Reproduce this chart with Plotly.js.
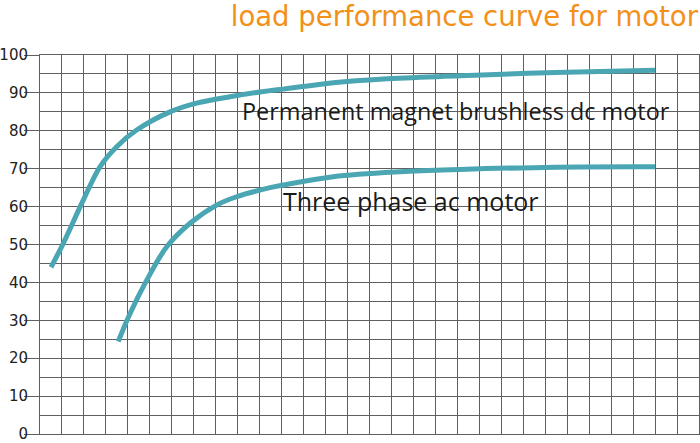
<!DOCTYPE html>
<html>
<head>
<meta charset="utf-8">
<script src="https://cdn.plot.ly/plotly-3.0.1.min.js"></script>
<style>html,body{margin:0;padding:0;background:#fff;}#chart{width:700px;height:443px;}</style>
</head>
<body>
<div id="chart"></div>
<script>
// Load (grid units) vs efficiency (%)
const bldcLoad = [0.5, 1.06, 1.97, 2.73, 3.49, 4.40, 5.92, 7.13, 8.65, 10.47, 11.07, 13.35, 15.63, 19.12, 23.5, 28.0];
const bldcEff  = [44.0, 50.3, 61.7, 70.5, 75.8, 80.2, 85.0, 87.3, 89.0, 90.6, 91.0, 92.7, 93.7, 94.5, 95.4, 96.0];
const acLoad = [3.56, 4.10, 4.86, 5.77, 6.83, 8.04, 8.95, 10.47, 11.07, 13.35, 16.39, 19.12, 23.5, 28.0];
const acEff  = [24.4, 31.8, 40.6, 49.4, 55.6, 60.4, 62.6, 65.0, 65.7, 67.9, 69.2, 69.8, 70.4, 70.5];
const yTicks = [0, 10, 20, 30, 40, 50, 60, 70, 80, 90, 100];
const titleText = "load performance curve for motor";
const bldcLabel = "Permanent magnet brushless dc motor";
const acLabel = "Three phase ac motor";

const lineColor = "#4aa6b3";
const gridColor = "#5f5f5f";

const traces = [
  {x: bldcLoad, y: bldcEff, mode: "lines", line: {color: lineColor, width: 5, shape: "spline"}, hoverinfo: "skip"},
  {x: acLoad, y: acEff, mode: "lines", line: {color: lineColor, width: 5, shape: "spline"}, hoverinfo: "skip"}
];

const layout = {
  width: 700, height: 443,
  margin: {l: 40, r: 1, t: 55, b: 9},
  paper_bgcolor: "#fff", plot_bgcolor: "#fff",
  showlegend: false,
  title: {text: titleText, font: {family: "DejaVu Sans", size: 27.5, color: "#f39019"},
          x: 698/700, xanchor: "right", xref: "container",
          y: 1 - 16/443, yanchor: "middle", yref: "container"},
  xaxis: {range: [0, 30], dtick: 1, tick0: 0, showticklabels: false, ticks: "",
          showgrid: true, gridcolor: gridColor, gridwidth: 1, zeroline: false,
          showline: true, linecolor: gridColor, linewidth: 1, mirror: true, fixedrange: true},
  yaxis: {range: [0, 100], tickvals: yTicks, ticktext: yTicks.map(String),
          ticks: "outside", ticklen: 15, tickcolor: gridColor, tickwidth: 1,
          ticklabelstandoff: -7, ticklabeloverflow: "allow",
          tickfont: {family: "DejaVu Sans", size: 15, color: "#222"},
          showgrid: true, gridcolor: gridColor, gridwidth: 1, zeroline: false,
          minor: {dtick: 5, tick0: 0, showgrid: true, gridcolor: gridColor, gridwidth: 1},
          showline: true, linecolor: gridColor, linewidth: 1, mirror: true, fixedrange: true},
  annotations: [
    {text: bldcLabel, x: 18.96, y: 85.1, xref: "x", yref: "y", showarrow: false,
     xanchor: "center", yanchor: "middle", font: {family: "Open Sans", size: 23.4, color: "#1a1a1a"}},
    {text: acLabel, x: 16.89, y: 61.5, xref: "x", yref: "y", showarrow: false,
     xanchor: "center", yanchor: "middle", font: {family: "Open Sans", size: 25, color: "#1a1a1a"}}
  ]
};

Plotly.newPlot("chart", traces, layout, {displayModeBar: false, staticPlot: true});
</script>
</body>
</html>
